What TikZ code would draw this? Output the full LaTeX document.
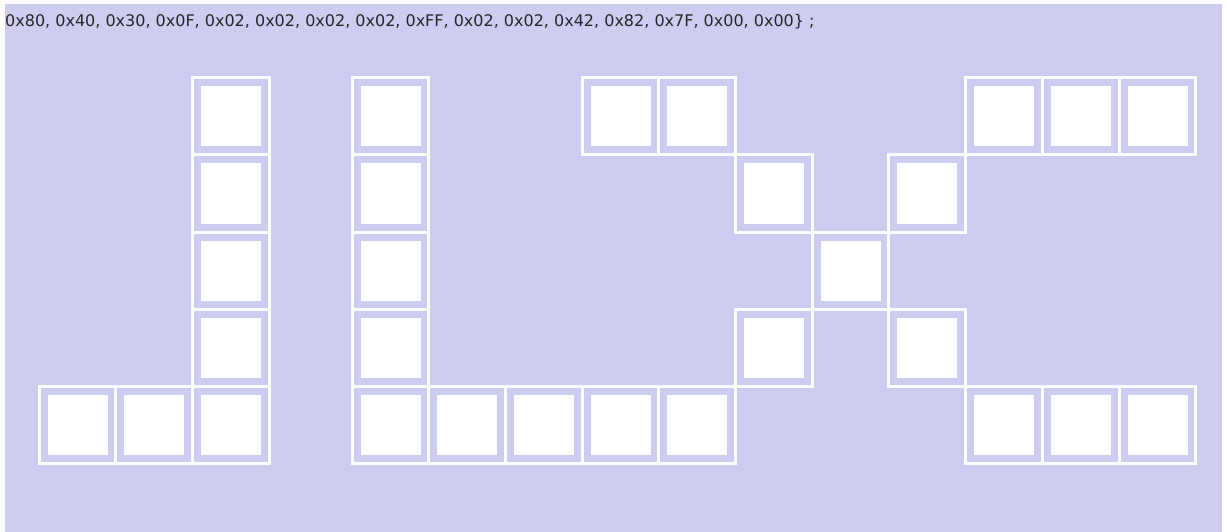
\documentclass[tikz,border=0pt]{standalone}
\usepackage{fontspec}
\setmainfont{DejaVu Sans}
\usepackage{xcolor}
\usepackage{tikz}

\definecolor{bgpanel}{RGB}{205,205,242}

\tikzset{
	cellframe/.style={draw=white, line width=3pt},
	cellfill/.style={fill=white},
}

% one pixel cell: frame plus inner square
\newcommand{\pixcell}[2]{%
	\draw[cellframe] (#1,#2) rectangle ++(76.7,77);
	\fill[cellfill] ($(#1,#2)+(8.5,8.5)$) rectangle ++(60,60);
}

\usetikzlibrary{calc}

\begin{document}
\begin{tikzpicture}[x=1pt, y=-1pt]
		\useasboundingbox (0,0) rectangle (1227,532);
		
		% Background panel
		\fill[bgpanel] (5,4) rectangle (1222,532);
		
		% Byte list
		\node[anchor=base west, inner sep=0pt, text=black!85, font=\fontsize{16}{18}\selectfont] (bytes) at (5,27)
		{0x80, 0x40, 0x30, 0x0F, 0x02, 0x02, 0x02, 0x02, 0xFF, 0x02, 0x02, 0x42, 0x82, 0x7F, 0x00, 0x00\} ;};
		
		% Letter J
		\foreach \c/\r in {2/0, 2/1, 2/2, 2/3, 0/4, 1/4, 2/4}
		\pixcell{39+76.7*\c}{78+77*\r};
		
		% Letter L
		\foreach \c/\r in {0/0, 0/1, 0/2, 0/3, 0/4, 1/4, 2/4, 3/4, 4/4}
		\pixcell{352+76.7*\c}{78+77*\r};
		
		% Letter X with top bar
		\foreach \c/\r in {3/0, 4/0, 5/1, 6/2, 5/3, 7/1, 7/3, 8/0, 9/0, 10/0, 8/4, 9/4, 10/4}
		\pixcell{352+76.7*\c}{78+77*\r};
	\end{tikzpicture}
\end{document}
